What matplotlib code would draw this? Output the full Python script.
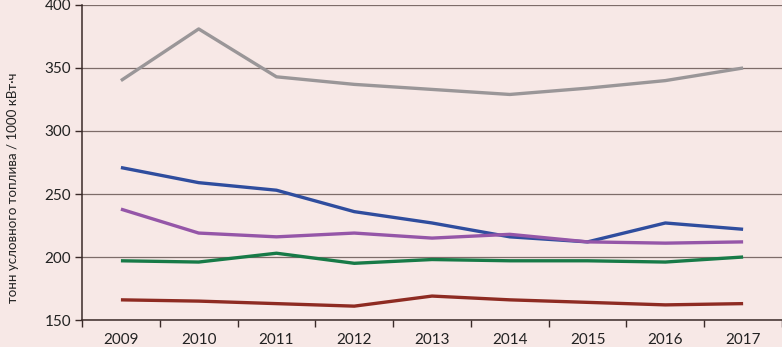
import matplotlib
matplotlib.use("Agg")
import matplotlib.pyplot as plt
import numpy as np

years = ["2009", "2010", "2011", "2012", "2013", "2014", "2015", "2016", "2017"]
gray_vals = [340, 381, 343, 337, 333, 329, 334, 340, 350]
blue_vals = [271, 259, 253, 236, 227, 216, 212, 227, 222]
purple_vals = [238, 219, 216, 219, 215, 218, 212, 211, 212]
green_vals = [197, 196, 203, 195, 198, 197, 197, 196, 200]
red_vals = [166, 165, 163, 161, 169, 166, 164, 162, 163]
y_ticks = [150, 200, 250, 300, 350, 400]
y_label = "тонн условного топлива / 1000 кВт·ч"

plt.rcParams['font.family'] = ['Lato', 'DejaVu Sans']
bg = "#F7E8E6"
fig = plt.figure(figsize=(7.82, 3.47), dpi=100, facecolor=bg)
ax = fig.add_axes([0.1049, 0.0778, 0.8951, 0.9078], facecolor=bg)

x = np.arange(len(years))
series = [
    (gray_vals, "#9A9698"),
    (blue_vals, "#2F4D9E"),
    (purple_vals, "#9556A8"),
    (green_vals, "#177A47"),
    (red_vals, "#8E2B22"),
]
for vals, c in series:
    ax.plot(x, vals, color=c, lw=2.4, solid_capstyle="butt", zorder=3)

ax.set_xlim(-0.5, len(years) - 0.5)
ax.set_ylim(150, 400)
ax.set_yticks(y_ticks)
ax.set_xticks(x)
ax.set_xticklabels(years)
ax.set_xticks(np.arange(-0.5, len(years), 1), minor=True)
ax.tick_params(axis="x", which="major", length=0, pad=9, labelsize=11, colors="#222222")
ax.tick_params(axis="x", which="minor", length=5, width=1, direction="out", color="#3a2a28")
ax.tick_params(axis="y", length=5, width=1, direction="out", color="#3a2a28", labelsize=11, labelcolor="#222222", pad=3)
ax.grid(axis="y", color="#7d6c69", lw=0.9, zorder=1)
for s in ["top", "right"]:
    ax.spines[s].set_visible(False)
for s in ["left", "bottom"]:
    ax.spines[s].set_color("#3a2a28")
    ax.spines[s].set_linewidth(1.1)
ax.set_ylabel(y_label, fontsize=9.6, color="#222222")
ax.yaxis.set_label_coords(-0.09, 0.42)

fig.savefig("out.png", dpi=100, facecolor=bg)
